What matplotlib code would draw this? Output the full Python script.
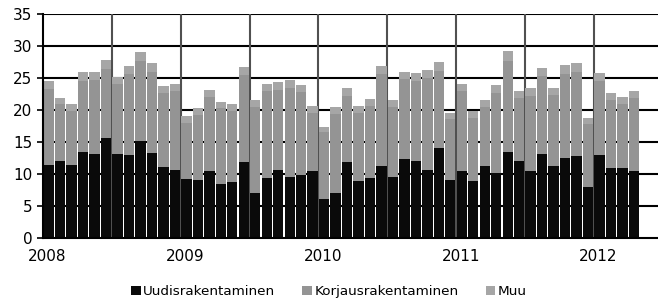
import matplotlib
matplotlib.use("Agg")
import matplotlib.pyplot as plt
import numpy as np

# monthly values 2008-01 .. 2012-04
uudis = [11.4, 12.0, 11.4, 13.4, 13.1, 15.7, 13.1, 12.9, 15.1, 13.3, 11.1, 10.7,
         9.2, 9.0, 10.5, 8.5, 8.7, 11.8, 7.0, 9.4, 10.7, 9.6, 9.8, 10.4,
         6.1, 7.1, 11.9, 8.9, 9.4, 11.3, 9.6, 12.3, 12.1, 10.6, 14.1, 9.1,
         10.5, 8.9, 11.3, 10.2, 13.4, 12.1, 10.5, 13.2, 11.3, 12.5, 12.8, 8.0,
         13.0, 11.0, 11.0, 10.5]
korjaus = [11.9, 8.9, 8.4, 11.2, 11.6, 10.7, 10.9, 12.8, 12.5, 12.7, 11.6, 12.3,
           8.8, 10.2, 11.5, 11.8, 11.2, 13.6, 13.5, 13.5, 12.5, 13.9, 13.0, 9.2,
           10.4, 12.3, 10.3, 10.7, 11.2, 14.3, 10.9, 12.5, 12.5, 14.4, 12.0, 9.5,
           12.4, 9.9, 9.1, 12.5, 14.3, 9.8, 11.7, 12.1, 11.0, 13.2, 13.1, 9.8,
           11.5, 10.6, 10.0, 11.3]
muu = [1.2, 1.0, 1.1, 1.3, 1.2, 1.4, 1.1, 1.2, 1.4, 1.3, 1.0, 1.1,
       1.0, 1.1, 1.2, 1.0, 1.1, 1.3, 1.0, 1.2, 1.1, 1.2, 1.1, 1.0,
       0.9, 1.0, 1.2, 1.0, 1.1, 1.3, 1.0, 1.2, 1.2, 1.3, 1.4, 1.0,
       1.2, 1.0, 1.1, 1.2, 1.5, 1.1, 1.2, 1.3, 1.1, 1.3, 1.4, 0.9,
       1.3, 1.1, 1.1, 1.2]
years = ['2008', '2009', '2010', '2011', '2012']

x = np.arange(len(uudis)) + 0.05
b1 = np.array(uudis)
b2 = b1 + np.array(korjaus)
w = 0.9

fig = plt.figure(figsize=(6.58, 3.0), dpi=100)
ax = fig.add_axes([0.0653, 0.2067, 0.9347, 0.7466])

ax.bar(x, uudis, w, align='edge', color='#0a0a0a', label='Uudisrakentaminen', zorder=2)
ax.bar(x, korjaus, w, bottom=b1, align='edge', color='#949494',
       label='Korjausrakentaminen', zorder=2)
ax.bar(x, muu, w, bottom=b2, align='edge', color='#a6a6a6', label='Muu', zorder=2)

ax.set_ylim(0, 35)
ax.set_xlim(0, 53.6)
ax.set_yticks(range(0, 36, 5))
ax.set_xticks([0.4, 12.4, 24.4, 36.4, 48.4])
ax.set_xticklabels(years)

# grid
for yv in range(5, 36, 5):
    ax.axhline(yv, color='black', lw=1.5, zorder=1)
for xv in np.arange(6, 54, 6):
    ax.axvline(xv, color='#505050', lw=1.5, zorder=1)

for s in ['top', 'right']:
    ax.spines[s].set_visible(False)
ax.spines['left'].set_linewidth(1.5)
ax.spines['bottom'].set_linewidth(1.5)
ax.tick_params(axis='y', labelsize=11, length=4, width=1.2)
ax.tick_params(axis='x', which='both', labelsize=11, length=0, pad=8)

fig.legend(loc='lower center', bbox_to_anchor=(0.5, -0.035), ncol=3, frameon=False,
           fontsize=9.7, handlelength=0.7, handleheight=0.7, handletextpad=0.2,
           columnspacing=2.0)

fig.savefig('out.png', dpi=100)
